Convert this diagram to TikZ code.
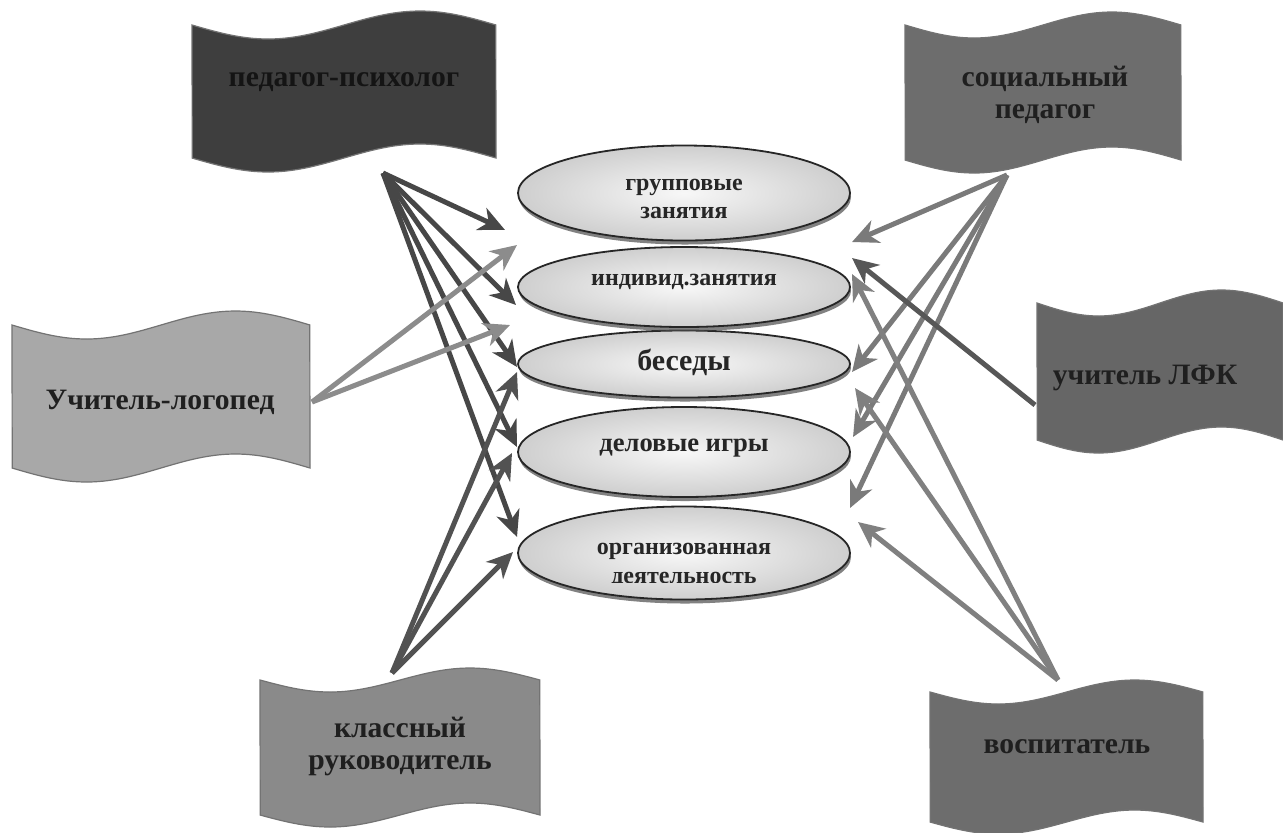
\documentclass[tikz,border=0pt]{standalone}
\usepackage{fontspec}
\setmainfont{Liberation Serif}
\usetikzlibrary{arrows.meta,shadows,shapes.geometric}
\definecolor{bnDark}{HTML}{3E3E3E}
\definecolor{bnMid}{HTML}{6D6D6D}
\definecolor{bnLfk}{HTML}{666666}
\definecolor{bnLight}{HTML}{A8A8A8}
\definecolor{bnKr}{HTML}{8A8A8A}
\newcommand\bannershape[6]{%
  \fill[#6, draw=black!55, line width=0.6pt]
    plot[domain=0:1,samples=60] ({#1+(#2-#1)*\x},{#3+#5*sin(360*\x)})
    -- plot[domain=1:0,samples=60] ({#1+(#2-#1)*\x},{#4+#5*sin(360*\x)})
    -- cycle;}
\begin{document}
\begin{tikzpicture}[x=0.5pt,y=-0.5pt,
  btext/.style={font=\fontsize{14.8}{16}\selectfont\bfseries, text=black!88, align=center, inner sep=0pt},
  oval/.style={ellipse, draw=black!85, line width=0.9pt, inner sep=0pt,
    inner color=gray!6, outer color=gray!38, minimum width=166pt,
    drop shadow={shadow xshift=0.5pt, shadow yshift=-2pt, fill=black!70, opacity=0.7}},
  otext/.style={font=\fontsize{12}{14}\selectfont\bfseries, text=black!85, align=center, inner sep=0pt},
  arr/.style={line width=2.5pt, -{Stealth[length=13pt,width=12pt,inset=4pt]}},
  arrD/.style={arr, draw=black!72, fill=black!72},
  arrL/.style={arr, draw=black!45, fill=black!45},
  arrK/.style={arr, draw=black!68, fill=black!68},
  arrS/.style={arr, draw=black!52, fill=black!52},
  arrF/.style={arr, draw=black!66, fill=black!66},
  arrV/.style={arr, draw=black!50, fill=black!50}]
\useasboundingbox (0,0) rectangle (1283,832);
\fill[white] (0,0) rectangle (1283,832);

% banners
\bannershape{192}{496}{25}{158}{14}{bnDark}
\node[btext, text=black!92] (pp) at (344,82) {педагог-психолог};

\bannershape{905}{1181}{25}{160}{13}{bnMid}
\node[btext] (sp) at (1045,95) {социальный\\педагог};

\bannershape{12}{310}{325}{468}{14}{bnLight}
\node[btext] (lg) at (160,402) {Учитель-логопед};

\bannershape{1037}{1283}{303}{440}{13}{bnLfk}
\node[btext] (lfk) at (1145,378) {учитель ЛФК};

\bannershape{260}{540}{680}{815}{12}{bnKr}
\node[btext] (kr) at (400,746) {классный\\руководитель};

\bannershape{930}{1203}{692}{822}{12}{bnMid}
\node[btext] (vs) at (1067,747) {воспитатель};

% ellipses (bottom first)
\node[oval, minimum height=46.5pt] (e5) at (684,553) {};
\begin{scope}
  \clip (518,500) rectangle (850,582);
  \node[otext, anchor=base] (e5a) at (684,554) {организованная};
  \node[otext, anchor=base] (e5b) at (684,583) {деятельность};
\end{scope}
\node[oval, minimum height=45pt] (e4) at (684,452) {};
\node[otext, font=\fontsize{13.3}{15}\selectfont\bfseries] (t4) at (684,448) {деловые игры};
\node[oval, minimum height=33.5pt] (e3) at (684,364) {};
\node[otext, font=\fontsize{15}{16}\selectfont\bfseries] (t3) at (684,362) {беседы};
\node[oval, minimum height=40pt] (e2) at (684,287) {};
\node[otext] (t2) at (684,282) {индивид.занятия};
\node[oval, minimum height=47.5pt] (e1) at (684,193) {};
\node[otext] (t1) at (684,199) {групповые\\занятия};

% arrow origins
\coordinate (ppo) at (383,173);
\coordinate (lgo) at (312,402);
\coordinate (kro) at (392,673);
\coordinate (spo) at (1007,175);
\coordinate (lfo) at (1035,405);
\coordinate (vso) at (1058,680);
% arrow tips
\coordinate (pp1) at (505,230);
\coordinate (pp2) at (516,305);
\coordinate (pp3) at (517,367);
\coordinate (pp4) at (517,447);
\coordinate (pp5) at (517,537);
\coordinate (lg1) at (517,245);
\coordinate (lg2) at (510,325);
\coordinate (kr1) at (517,372);
\coordinate (kr2) at (512,453);
\coordinate (kr3) at (513,552);
\coordinate (sp1) at (852,242);
\coordinate (sp2) at (852,372);
\coordinate (sp3) at (853,437);
\coordinate (sp4) at (850,508);
\coordinate (lf1) at (852,258);
\coordinate (vs1) at (852,274);
\coordinate (vs2) at (855,388);
\coordinate (vs3) at (858,522);

\foreach \t in {pp1,pp2,pp3,pp4,pp5} \draw[arrD] (ppo) -- (\t);
\foreach \t in {lg1,lg2} \draw[arrL] (lgo) -- (\t);
\foreach \t in {kr1,kr2,kr3} \draw[arrK] (kro) -- (\t);
\foreach \t in {sp1,sp2,sp3,sp4} \draw[arrS] (spo) -- (\t);
\draw[arrF] (lfo) -- (lf1);
\foreach \t in {vs1,vs2,vs3} \draw[arrV] (vso) -- (\t);
\end{tikzpicture}
\end{document}
